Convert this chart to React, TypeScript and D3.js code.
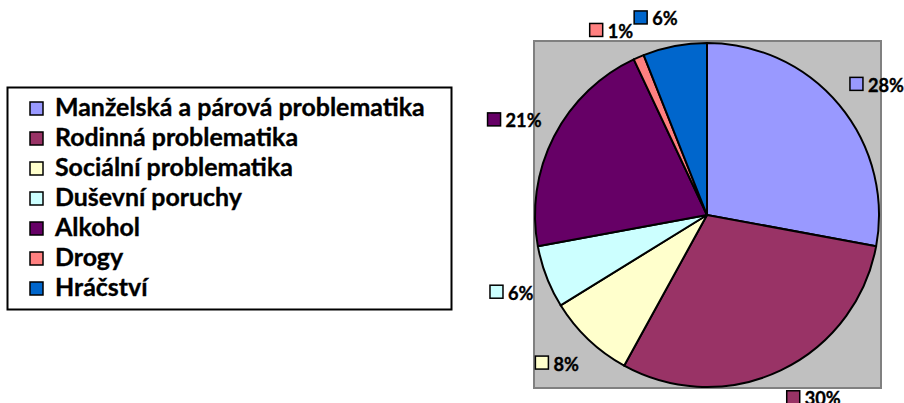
import React, { useEffect, useRef } from "react";
import * as d3 from "d3";

const categories = [
  "Manželská a párová problematika",
  "Rodinná problematika",
  "Sociální problematika",
  "Duševní poruchy",
  "Alkohol",
  "Drogy",
  "Hráčství",
];
const values = [27.9, 30.1, 8.2, 5.9, 20.9, 1.0, 6.0];
const labels = ["28%", "30%", "8%", "6%", "21%", "1%", "6%"];
const colors = ["#9999FF", "#993366", "#FFFFCC", "#CCFFFF", "#660066", "#FF8080", "#0066CC"];

const W = 904;
const H = 403;
const FONT = "Lato, 'Open Sans', sans-serif";

export default function App() {
  const ref = useRef<SVGSVGElement>(null);
  useEffect(() => {
    const svg = d3.select(ref.current);
    svg.selectAll("*").remove();

    const fit = (txt: string, target: number) => {
      const t = svg.append("text")
        .attr("font-family", FONT).attr("font-weight", "bold").attr("font-size", 20)
        .text(txt);
      const w = (t.node() as SVGTextElement).getComputedTextLength();
      t.remove();
      return (20 * target) / w;
    };
    const legendSize = fit(categories[0], 370);
    const labelSize = fit("28%", 36);

    // plot area
    svg.append("rect")
      .attr("x", 534).attr("y", 41).attr("width", 347).attr("height", 347)
      .attr("fill", "#C0C0C0").attr("stroke", "#808080").attr("stroke-width", 2);

    const cx = 707, cy = 215, r = 172;
    const pie = d3.pie<number>().sort(null).value((d) => d);
    const arcs = pie(values);
    const arc = d3.arc<d3.PieArcDatum<number>>().innerRadius(0).outerRadius(r);

    const g = svg.append("g").attr("transform", `translate(${cx},${cy})`);
    g.selectAll("path.slice").data(arcs).enter().append("path")
      .attr("class", "slice")
      .attr("d", arc)
      .attr("fill", (_, i) => colors[i])
      .attr("stroke", "#000").attr("stroke-width", 2).attr("stroke-linejoin", "round");

    // data labels (outside end)
    const Rx = 186, Ry = 194;
    const boxH = 14;
    const clamp = (v: number) => Math.max(-1, Math.min(1, v));
    arcs.forEach((a, i) => {
      const th = (a.startAngle + a.endAngle) / 2;
      const ax = Rx * Math.sin(th);
      const ay = -Ry * Math.cos(th);
      const lg = g.append("g");
      const t = lg.append("text")
        .attr("font-family", FONT).attr("font-weight", "bold").attr("font-size", labelSize)
        .attr("fill", "#000").attr("stroke", "#000").attr("stroke-width", 0.35)
        .attr("dominant-baseline", "central")
        .text(labels[i]);
      const tw = (t.node() as SVGTextElement).getComputedTextLength();
      const total = 13 + 5 + tw;
      const bx = ax + (total / 2) * clamp(4 * Math.sin(th));
      const by = ay - (boxH / 2) * clamp(4 * Math.cos(th));
      const x0 = bx - total / 2;
      lg.insert("rect", "text")
        .attr("x", x0).attr("y", by - 6.5).attr("width", 13).attr("height", 13)
        .attr("fill", colors[i]).attr("stroke", "#000").attr("stroke-width", 1.5);
      t.attr("x", x0 + 18).attr("y", by + 1);
    });

    // legend
    svg.append("rect")
      .attr("x", 7.5).attr("y", 87.5).attr("width", 444).attr("height", 222)
      .attr("fill", "#fff").attr("stroke", "#000").attr("stroke-width", 2);
    const lgd = svg.append("g");
    categories.forEach((c, i) => {
      const y = 116 + i * 30;
      lgd.append("rect")
        .attr("x", 30).attr("y", y - 14).attr("width", 13).attr("height", 13)
        .attr("fill", colors[i]).attr("stroke", "#000").attr("stroke-width", 1.5);
      lgd.append("text")
        .attr("x", 55).attr("y", y)
        .attr("font-family", FONT).attr("font-weight", "bold").attr("font-size", legendSize)
        .attr("fill", "#000").attr("stroke", "#000").attr("stroke-width", 0.35)
        .text(c);
    });
  }, []);
  return (
    <div style={{ position: "absolute", left: 0, top: 0 }}>
      <svg ref={ref} width={W} height={H} style={{ display: "block", background: "#fff" }} />
    </div>
  );
}
